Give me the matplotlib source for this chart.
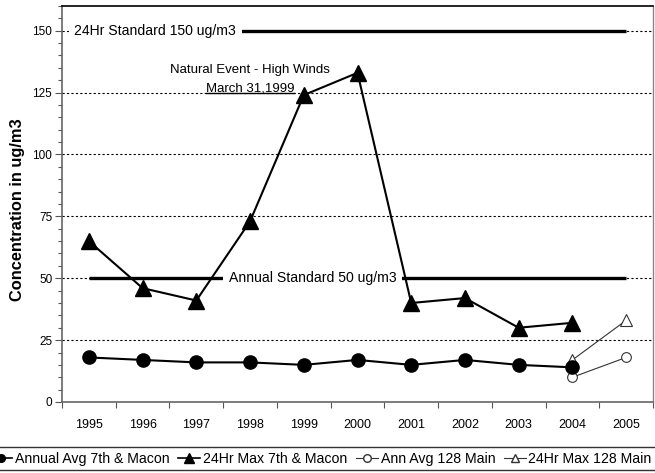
import matplotlib
matplotlib.use("Agg")
import matplotlib.pyplot as plt
from matplotlib.lines import Line2D
from matplotlib.ticker import MultipleLocator, FixedLocator, NullFormatter

plt.rcParams['font.family'] = ['Liberation Sans', 'DejaVu Sans']

years = ['1995', '1996', '1997', '1998', '1999', '2000', '2001', '2002', '2003', '2004', '2005']
annual_avg_7th = [18, 17, 16, 16, 15, 17, 15, 17, 15, 14, None]
max24_7th = [65, 46, 41, 73, 124, 133, 40, 42, 30, 32, None]
ann_avg_128 = [None] * 9 + [10, 18]
max24_128 = [None] * 9 + [17, 33]
std_24hr = 150
std_annual = 50

x = list(range(len(years)))

def pts(vals):
    xs = [i for i, v in zip(x, vals) if v is not None]
    ys = [v for v in vals if v is not None]
    return xs, ys

fig = plt.figure(figsize=(6.55, 4.73), dpi=100)
ax = fig.add_axes([62 / 655, 1 - 402 / 473, 591 / 655, 396 / 473])

ax.set_xlim(-0.5, len(years) - 0.5)
ax.set_ylim(0, 160)

# horizontal dotted gridlines
for g in range(25, 151, 25):
    ax.axhline(g, color='black', lw=0.8, ls=(0, (2, 2)), zorder=1)

# standard lines
ax.plot([0, 10], [std_24hr, std_24hr], color='black', lw=2.4, zorder=2, solid_capstyle='butt')
ax.plot([0, 10], [std_annual, std_annual], color='black', lw=2.4, zorder=2, solid_capstyle='butt')

ax.text(-0.27, std_24hr, '24Hr Standard 150 ug/m3', fontsize=10.1, va='center', ha='left',
        bbox=dict(facecolor='white', edgecolor='none', pad=4), zorder=3)
ax.text(2.6, std_annual, 'Annual Standard 50 ug/m3', fontsize=10.1, va='center', ha='left',
        bbox=dict(facecolor='white', edgecolor='none', pad=4), zorder=3)

ax.text(3.0, 134, 'Natural Event - High Winds', fontsize=9.5, va='center', ha='center', zorder=3)
t_march = ax.text(3.0, 126.8, 'March 31,1999', fontsize=9.5, va='center', ha='center', zorder=3)

# data series
xs, ys = pts(annual_avg_7th)
ax.plot(xs, ys, color='black', lw=1.5, marker='o', ms=9.5, mfc='black', mec='black', zorder=5)
xs, ys = pts(max24_7th)
ax.plot(xs, ys, color='black', lw=1.5, marker='^', ms=11, mfc='black', mec='black', zorder=5)
xs, ys = pts(ann_avg_128)
ax.plot(xs, ys, color='#333333', lw=0.8, marker='o', ms=7, mfc='white', mec='#333333', mew=0.8, zorder=4)
xs, ys = pts(max24_128)
ax.plot(xs, ys, color='#333333', lw=0.8, marker='^', ms=8.5, mfc='white', mec='#333333', mew=0.8, zorder=4)

# axes styling
ax.yaxis.set_major_locator(MultipleLocator(25))
ax.yaxis.set_minor_locator(MultipleLocator(5))
ax.tick_params(axis='y', which='major', length=5, width=0.8, color='#555555', labelsize=8.5, pad=2)
ax.tick_params(axis='y', which='minor', length=3, width=0.8, color='#555555')

ax.xaxis.set_major_locator(FixedLocator([i + 0.5 for i in range(-1, len(years))]))
ax.xaxis.set_major_formatter(NullFormatter())
ax.xaxis.set_minor_locator(FixedLocator(x))
ax.set_xticklabels(years, minor=True)
ax.tick_params(axis='x', which='major', length=4, width=0.8, color='#555555', direction='out')
ax.tick_params(axis='x', which='minor', length=0, labelsize=9, pad=12)

for s in ('left', 'bottom'):
    ax.spines[s].set_color('#666666')
    ax.spines[s].set_linewidth(1.2)
ax.spines['top'].set_color('black')
ax.spines['top'].set_linewidth(1.2)
ax.spines['right'].set_color('#888888')
ax.spines['right'].set_linewidth(1.0)

fig.text(18 / 655, 1 - 210 / 473, 'Concentration in ug/m3', rotation=90, fontsize=11.8,
         fontweight='bold', va='center', ha='center')

# underline beneath the date label
fig.canvas.draw()
bb = t_march.get_window_extent().transformed(ax.transData.inverted())
ax.plot([bb.x0, bb.x1], [125, 125], color='black', lw=1.0, zorder=3)

handles = [
    Line2D([], [], color='black', lw=1.2, marker='o', ms=5.5, mfc='black'),
    Line2D([], [], color='black', lw=1.2, marker='^', ms=6.5, mfc='black'),
    Line2D([], [], color='#333333', lw=0.8, marker='o', ms=5.5, mfc='white', mec='#333333'),
    Line2D([], [], color='#333333', lw=0.8, marker='^', ms=6, mfc='white', mec='#333333'),
]
labels = ['Annual Avg 7th & Macon', '24Hr Max 7th & Macon', 'Ann Avg 128 Main', '24Hr Max 128 Main']
leg = fig.legend(handles, labels, loc='center left', bbox_to_anchor=(-21 / 655, 1 - 458.5 / 473),
                 ncol=4, frameon=True, fontsize=10.2, handlelength=1.55, handletextpad=0.2,
                 columnspacing=0.6, borderpad=0.3, fancybox=False, edgecolor='black')
leg.get_frame().set_linewidth(1.0)

fig.savefig('out.png', dpi=100)
